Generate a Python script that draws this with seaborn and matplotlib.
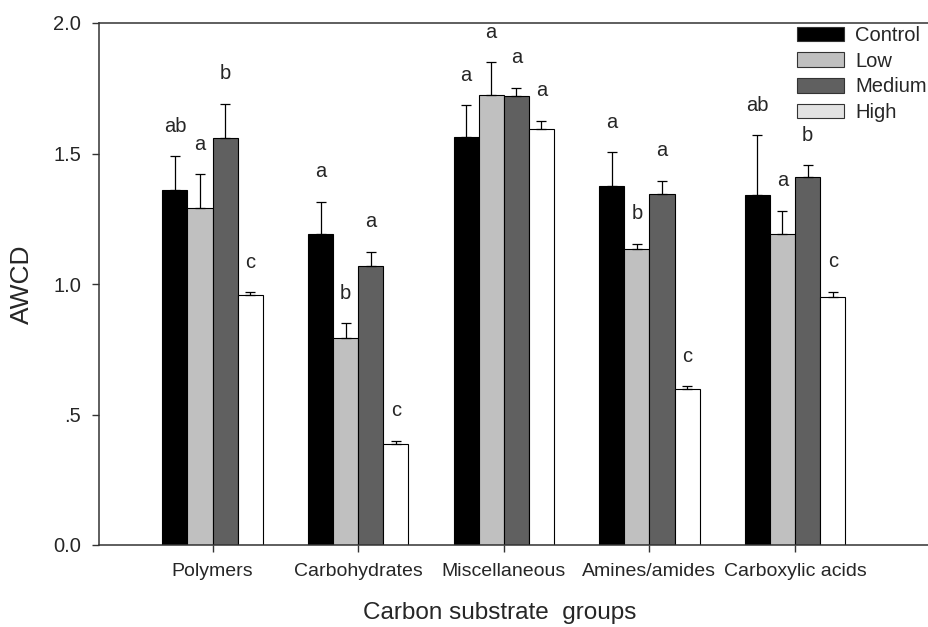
import numpy as np
import pandas as pd
import matplotlib
matplotlib.use("Agg")
import matplotlib.pyplot as plt
from matplotlib.patches import Patch
import seaborn as sns

# data
groups = ["Polymers", "Carbohydrates", "Miscellaneous", "Amines/amides", "Carboxylic acids"]
treatments = ["Control", "Low", "Medium", "High"]

control = [1.36, 1.19, 1.565, 1.375, 1.34]
low = [1.29, 0.795, 1.725, 1.135, 1.19]
medium = [1.56, 1.068, 1.72, 1.345, 1.41]
high = [0.958, 0.387, 1.594, 0.597, 0.949]

control_se = [0.13, 0.125, 0.12, 0.13, 0.23]
low_se = [0.13, 0.055, 0.125, 0.02, 0.09]
medium_se = [0.13, 0.056, 0.032, 0.05, 0.045]
high_se = [0.01, 0.013, 0.032, 0.012, 0.021]

control_sig = ["ab", "a", "a", "a", "ab"]
low_sig = ["a", "b", "a", "b", "a"]
medium_sig = ["b", "a", "a", "a", "b"]
high_sig = ["c", "c", "a", "c", "c"]

colors = ["#000000", "#c0c0c0", "#606060", "#ffffff"]
legend_colors = ["#000000", "#c0c0c0", "#606060", "#e2e2e2"]

means = [control, low, medium, high]
ses = [control_se, low_se, medium_se, high_se]
sigs = [control_sig, low_sig, medium_sig, high_sig]

df = pd.DataFrame({
    "group": groups * 4,
    "treatment": np.repeat(treatments, len(groups)),
    "awcd": np.concatenate(means),
})

sns.set_style("ticks")
plt.rcParams["font.family"] = ["Liberation Sans", "DejaVu Sans"]

fig = plt.figure(figsize=(9.29, 6.27), dpi=100)
ax = fig.add_axes([99 / 929, 82 / 627, 830 / 929, 522 / 627])

sns.barplot(data=df, x="group", y="awcd", hue="treatment", order=groups,
            hue_order=treatments, palette=colors, width=0.69, gap=0,
            edgecolor="black", linewidth=0.8, errorbar=None, legend=False, ax=ax)

# error bars (upper only) and significance letters
for cont, se, sig in zip(ax.containers, ses, sigs):
    xs = [b.get_x() + b.get_width() / 2 for b in cont]
    hs = [b.get_height() for b in cont]
    ax.errorbar(xs, hs, yerr=[np.zeros(len(se)), se], fmt="none", ecolor="black",
                elinewidth=0.9, capsize=3.8, capthick=0.9)
    for x, h, e, s in zip(xs, hs, se, sig):
        ax.text(x, h + e + 0.115, s, ha="center", va="center", fontsize=14.5)

ax.set_ylim(0, 2.0)
ax.set_xlim(-0.78, 4.92)
ax.set_yticks([0, 0.5, 1.0, 1.5, 2.0])
ax.set_yticklabels(["0.0", ".5", "1.0", "1.5", "2.0"])
ax.tick_params(axis="both", labelsize=14.5, length=5, width=1, color="#333333", pad=8)
ax.tick_params(axis="x", labelsize=14)
ax.set_xlabel("Carbon substrate  groups", fontsize=17.5)
ax.set_ylabel("AWCD", fontsize=19)
ax.xaxis.set_label_coords(0.483, -0.11)
ax.yaxis.set_label_coords(-0.078, 0.5)

for side in ["left", "bottom", "top"]:
    ax.spines[side].set_color("#333333")
    ax.spines[side].set_linewidth(1.1)
ax.spines["right"].set_visible(False)

handles = [Patch(facecolor=c, edgecolor="#333333", linewidth=0.8) for c in legend_colors]
ax.legend(handles, treatments, loc="upper left", bbox_to_anchor=(797 / 929, 1 - 26 / 627),
          bbox_transform=fig.transFigure, frameon=False, fontsize=14.5,
          handlelength=2.35, handleheight=0.74, handletextpad=0.55,
          labelspacing=0.33, borderpad=0, borderaxespad=0)

plt.savefig("out.png", dpi=100)
